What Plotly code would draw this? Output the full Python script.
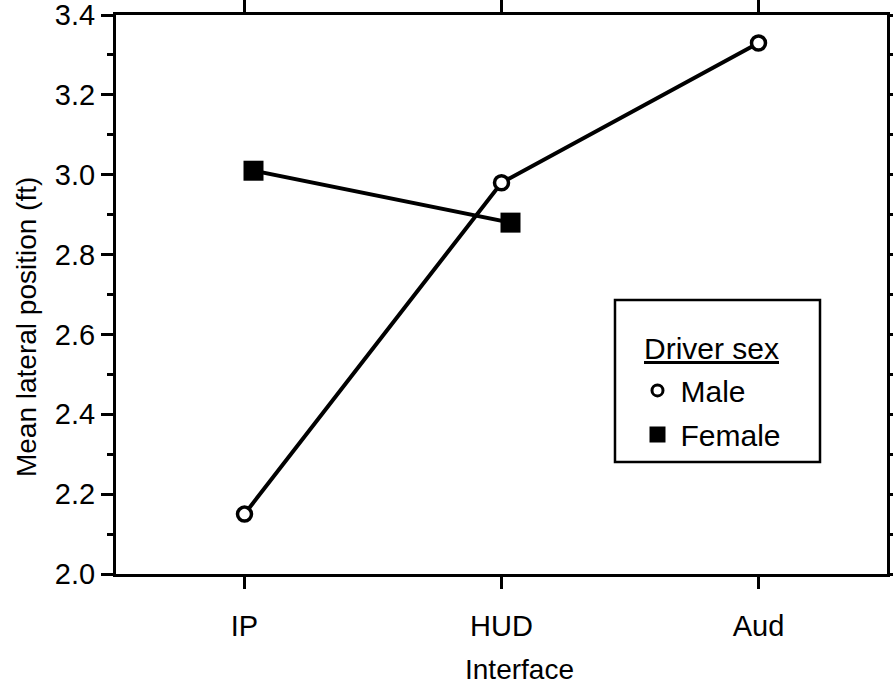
import plotly.graph_objects as go

# Interface conditions on the x axis
interfaces = ["IP", "HUD", "Aud"]

# Mean lateral position (ft) by driver sex
male_values = [2.15, 2.98, 3.33]
female_values = [3.01, 2.88]          # IP, HUD

# Y-axis tick labels
y_ticks = [2.0, 2.2, 2.4, 2.6, 2.8, 3.0, 3.2, 3.4]

FONT = "Liberation Sans, Arial, Helvetica, sans-serif"
FEMALE_SHIFT = 0.035  # small horizontal nudge so the two series do not overlap

x_male = list(range(len(male_values)))
x_female = [i + FEMALE_SHIFT for i in range(len(female_values))]

fig = go.Figure()

fig.add_trace(go.Scatter(
    x=x_male, y=male_values, mode="lines+markers", showlegend=False,
    line=dict(color="black", width=4),
    marker=dict(symbol="circle", size=14, color="white",
                line=dict(color="black", width=3.5)),
))
fig.add_trace(go.Scatter(
    x=x_female, y=female_values, mode="lines+markers", showlegend=False,
    line=dict(color="black", width=4),
    marker=dict(symbol="square", size=20, color="black",
                line=dict(color="black", width=0)),
))

# Legend entries (markers only), one group each so the gap can be tuned
fig.add_trace(go.Scatter(
    x=[None], y=[None], mode="markers", name="Male", legendgroup="m",
    marker=dict(symbol="circle", size=11, color="white",
                line=dict(color="black", width=3)),
))
fig.add_trace(go.Scatter(
    x=[None], y=[None], mode="markers", name="Female", legendgroup="f",
    marker=dict(symbol="square", size=17, color="black"),
))

fig.update_layout(
    width=893, height=691,
    margin=dict(l=116, r=6, t=15, b=117),
    paper_bgcolor="white", plot_bgcolor="white",
    font=dict(family=FONT, color="black", size=28),
    legend=dict(
        x=0.6725, y=0.375, xanchor="left", yanchor="top",
        borderwidth=0, bgcolor="rgba(0,0,0,0)",
        font=dict(size=30),
        tracegroupgap=2, itemsizing="trace", itemwidth=36,
    ),
    xaxis=dict(
        range=[-0.5, 2.5], automargin=False,
        tickvals=x_male, ticktext=interfaces,
        ticks="outside", ticklen=12, tickwidth=3, tickcolor="black",
        showline=True, linewidth=3, linecolor="black", mirror="ticks",
        showgrid=False, zeroline=False,
        tickfont=dict(size=29), ticklabelstandoff=12,
    ),
    yaxis=dict(
        range=[2.0, 3.4], automargin=False, ticklabeloverflow="allow",
        tickvals=y_ticks, ticktext=[f"{v:.1f}" for v in y_ticks],
        ticks="outside", ticklen=12, tickwidth=3, tickcolor="black",
        minor=dict(dtick=0.1, ticks="outside", ticklen=6, tickwidth=2.5,
                   tickcolor="black", showgrid=False),
        showline=True, linewidth=3, linecolor="black", mirror="ticks",
        showgrid=False, zeroline=False,
        tickfont=dict(size=29),
    ),
    shapes=[
        # legend frame
        dict(type="rect", xref="paper", yref="paper",
             x0=0.6472, x1=0.9131, y0=0.2004, y1=0.4902,
             line=dict(color="black", width=2.5), fillcolor="rgba(0,0,0,0)"),
    ],
    annotations=[
        dict(text="<u>Driver sex</u>", xref="paper", yref="paper",
             x=0.6822, y=0.403, xanchor="left", yanchor="middle",
             showarrow=False, font=dict(size=30)),
        dict(text="Interface", xref="paper", yref="paper",
             x=0.5227, y=-0.170, xanchor="center", yanchor="middle",
             showarrow=False, font=dict(size=28)),
        dict(text="Mean lateral position (ft)", xref="paper", yref="paper",
             x=-0.1167, y=0.4418, xanchor="center", yanchor="middle",
             textangle=-90, showarrow=False, font=dict(size=28)),
    ],
)

fig.write_html("out.html")
